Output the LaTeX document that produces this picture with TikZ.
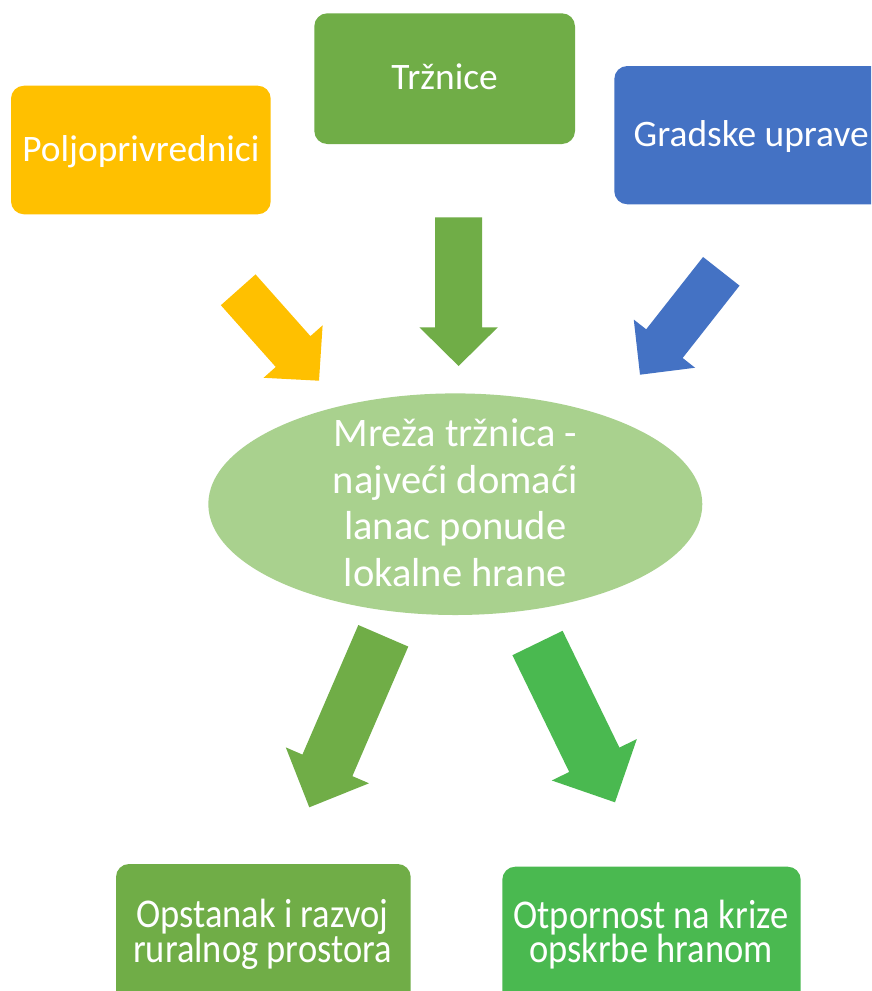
\documentclass[tikz,border=0pt]{standalone}
\usepackage{fontspec}
\setmainfont{Carlito}
\usetikzlibrary{calc,shapes.geometric}
\definecolor{cyel}{HTML}{FFC000}
\definecolor{cgrn}{HTML}{70AD47}
\definecolor{cblu}{HTML}{4472C4}
\definecolor{clgr}{HTML}{A9D18E}
\definecolor{cbgr}{RGB}{74,185,80}
\newcommand{\tightbottomfont}{\fontsize{36.5}{30.4}\selectfont\setlength{\lineskiplimit}{-100pt}\setlength{\lineskip}{0pt}}
% block arrow: tail, tip, half shaft width, half head width, head length, colour
\newcommand{\blockarrow}[6]{%
  \coordinate (ba) at ($(#2)!#5!(#1)$);
  \fill[#6] ($(#1)!#3!90:(#2)$) -- ($(ba)!#3!90:(#2)$) -- ($(ba)!#4!90:(#2)$) -- (#2)
    -- ($(ba)!#4!-90:(#2)$) -- ($(ba)!#3!-90:(#2)$) -- ($(#1)!#3!-90:(#2)$) -- cycle;}
\begin{document}
\begin{tikzpicture}[x=1pt,y=-1pt,
  box/.style={rounded corners=13pt, inner sep=0pt, text=white,
    font=\fontsize{37.4}{44}\selectfont, text height=26pt, text depth=4pt},
  btext/.style={align=center, text=white, inner sep=0pt, yscale=1.12,
    font=\tightbottomfont},
  hubtextstyle/.style={align=center, text=white, inner sep=0pt,
    font=\fontsize{40.5}{46.5}\selectfont}]
\clip (0,0) rectangle (871,991);
\fill[white] (0,0) rectangle (871,991);

% top boxes
\node[box, fill=cyel, minimum width=259.7pt, minimum height=128.6pt] (farm) at (140.85,150) {Poljoprivrednici};
\node[box, fill=cgrn, minimum width=260.7pt, minimum height=130.7pt] (mark) at (444.65,78.65) {Tržnice};
\node[box, fill=cblu, minimum width=273.7pt, minimum height=138.3pt] (city) at (751.15,135.15) {Gradske uprave};

% hub
\node[ellipse, fill=clgr, minimum width=494pt, minimum height=221.6pt, inner sep=0pt] (hub) at (455.3,504.2) {};
\node[hubtextstyle] (hubtext) at (455.3,502.5) {Mreža tržnica -\\najveći domaći\\lanac ponude\\lokalne hrane};

% bottom boxes
\node[box, fill=cgrn, minimum width=294.7pt, minimum height=146pt] (rural) at (263.35,937) {};
\node[btext] (ruraltext) at (262.5,934.3) {Opstanak i razvoj\\ruralnog prostora};
\node[box, fill=cbgr, minimum width=298.4pt, minimum height=143.3pt] (resil) at (651.5,938.35) {};
\node[btext] (resiltext) at (650.9,934.3) {Otpornost na krize\\opskrbe hranom};

% arrows
\coordinate (a1t) at (238.2,289.8); \coordinate (a1h) at (319,380.7);
\coordinate (a2t) at (458.6,217.3); \coordinate (a2h) at (458.6,366);
\coordinate (a3t) at (721.3,271.3); \coordinate (a3h) at (640,374.7);
\coordinate (a4t) at (383.3,635.8); \coordinate (a4h) at (309.3,807.3);
\coordinate (a5t) at (537.5,643);   \coordinate (a5h) at (615,802.3);
\blockarrow{a1t}{a1h}{23.2pt}{39.5pt}{39pt}{cyel}
\blockarrow{a2t}{a2h}{23.5pt}{39.2pt}{38.7pt}{cgrn}
\blockarrow{a3t}{a3h}{23.2pt}{39pt}{39.5pt}{cblu}
\blockarrow{a4t}{a4h}{27.2pt}{45.3pt}{45.7pt}{cgrn}
\blockarrow{a5t}{a5h}{27.9pt}{47.3pt}{47.3pt}{cbgr}
\end{tikzpicture}
\end{document}
